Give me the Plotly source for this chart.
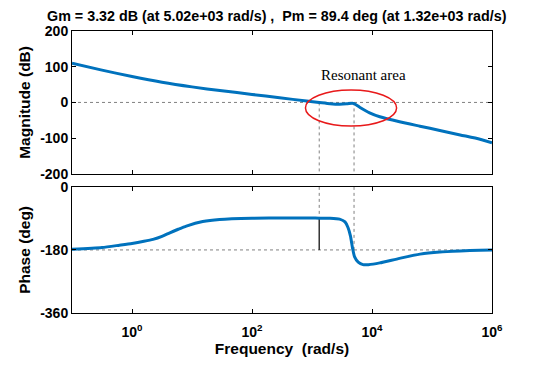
import plotly.graph_objects as go

# ---- data (frequency in rad/s) ----
mag_freq = [0.1, 0.316, 1.0, 3.16, 10, 31.6, 100, 288, 813, 1320, 2000, 2880,
            3800, 4680, 5020, 6310, 9120, 13500, 28800, 63100, 135000, 295000, 631000, 1000000]
mag_db = [110, 90.5, 72.5, 56.5, 43.5, 32.5, 22.5, 13, 4, 0, -3.5, -5,
          -4, -2, -3.3, -14, -29, -40, -54, -66.5, -78.5, -91, -103, -113]

ph_freq = [0.1, 0.316, 0.617, 1.0, 1.58, 2.24, 3.16, 4.27, 5.89, 8.04, 15.1, 28.8, 100, 372, 1000,
           1320, 2000, 2880, 3550, 3980, 4370, 4730, 5130, 5890, 7080, 8710, 13500, 28800,
           63100, 135000, 295000, 631000, 1000000]
ph_deg = [-178, -173, -166.5, -161.5, -155.5, -150, -141.5, -131, -121, -112, -99, -93, -89.5,
          -88.8, -89, -89.3, -89.5, -92, -100, -116, -140, -174, -200, -215, -222, -222,
          -217, -204, -192, -186, -183, -181, -180]

mag_ticks = [200, 100, 0, -100, -200]
ph_ticks = [0, -180, -360]
x_tickvals = [1, 100, 10000, 1000000]
x_ticktext = ["10<sup>0</sup>", "10<sup>2</sup>", "10<sup>4</sup>", "10<sup>6</sup>"]

wc_pm = 1320   # phase-margin crossover
wc_gm = 5020   # gain-margin crossover
pm_phase = -89.3
title_text = "Gm = 3.32 dB (at 5.02e+03 rad/s) ,  Pm = 89.4 deg (at 1.32e+03 rad/s)"

BLUE = "#0072BD"
FONT = "Liberation Sans, Arial, sans-serif"

fig = go.Figure()
fig.add_trace(go.Scatter(x=mag_freq, y=mag_db, mode="lines", xaxis="x", yaxis="y",
                         line=dict(color=BLUE, width=3, shape="spline", smoothing=0.6),
                         showlegend=False))
fig.add_trace(go.Scatter(x=ph_freq, y=ph_deg, mode="lines", xaxis="x2", yaxis="y2",
                         line=dict(color=BLUE, width=3, shape="spline", smoothing=0.6),
                         showlegend=False))

axis_common = dict(showline=True, linecolor="black", linewidth=1, mirror="ticks",
                   ticks="inside", ticklen=4, tickcolor="black", showgrid=False,
                   zeroline=False, tickfont=dict(family=FONT, size=14, color="black"))

fig.update_layout(
    width=548, height=368,
    margin=dict(l=72, r=56, t=31, b=55),
    paper_bgcolor="white", plot_bgcolor="white",
    title=dict(text="<b>" + title_text + "</b>", x=0.505, xanchor="center",
               y=0.957, yanchor="middle",
               font=dict(family=FONT, size=14.3, color="black")),
    xaxis=dict(type="log", range=[-1, 6], domain=[0, 1], anchor="y",
               tickvals=x_tickvals, ticktext=x_ticktext, showticklabels=False,
               **axis_common),
    yaxis=dict(range=[-200, 200], domain=[0.4934, 1], anchor="x",
               tickvals=mag_ticks, ticktext=[f"<b>{v}</b>" for v in mag_ticks],
               title=dict(text="<b>Magnitude (dB)</b>", standoff=5,
                          font=dict(family=FONT, size=15.5, color="black")),
               **axis_common),
    xaxis2=dict(type="log", range=[-1, 6], domain=[0, 1], anchor="y2",
                tickvals=x_tickvals, ticktext=[f"<b>{t}</b>" for t in x_ticktext],
                ticklabelstandoff=6,
                title=dict(text="<b>Frequency  (rad/s)</b>", standoff=4,
                           font=dict(family=FONT, size=15.5, color="black")),
                **axis_common),
    yaxis2=dict(range=[-360, 0], domain=[0, 0.4473], anchor="x2",
                tickvals=ph_ticks, ticktext=[f"<b>{v}</b>" for v in ph_ticks],
                title=dict(text="<b>Phase (deg)</b>", standoff=5,
                           font=dict(family=FONT, size=15.5, color="black")),
                **axis_common),
)

dot = dict(color="#808080", width=1, dash="dot")
# reference lines
fig.add_shape(type="line", xref="x domain", yref="y", x0=0, x1=1, y0=0, y1=0, line=dot, layer="below")
fig.add_shape(type="line", xref="x2 domain", yref="y2", x0=0, x1=1, y0=-180, y1=-180, line=dot, layer="below")
# crossover markers, magnitude plot
fig.add_shape(type="line", xref="x", yref="y", x0=wc_pm, x1=wc_pm, y0=0, y1=-200, line=dot, layer="below")
fig.add_shape(type="line", xref="x", yref="y", x0=wc_gm, x1=wc_gm, y0=0, y1=-200, line=dot, layer="below")
# crossover markers, phase plot
fig.add_shape(type="line", xref="x2", yref="y2", x0=wc_pm, x1=wc_pm, y0=0, y1=pm_phase, line=dot, layer="below")
fig.add_shape(type="line", xref="x2", yref="y2", x0=wc_gm, x1=wc_gm, y0=0, y1=-180, line=dot, layer="below")
fig.add_shape(type="line", xref="x2", yref="y2", x0=wc_pm, x1=wc_pm, y0=pm_phase, y1=-180,
              line=dict(color="#333333", width=1.5), layer="below")

# resonant area ellipse
fig.add_shape(type="circle", xref="x", yref="y", x0=778, x1=25700, y0=-66, y1=34.7,
              line=dict(color="#E8191A", width=1.5))
fig.add_annotation(x=3.85, y=77, xref="x", yref="y", text="Resonant area", showarrow=False,
                   font=dict(family="Liberation Serif, Times New Roman, serif", size=15, color="black"))

fig.write_html("out.html")
